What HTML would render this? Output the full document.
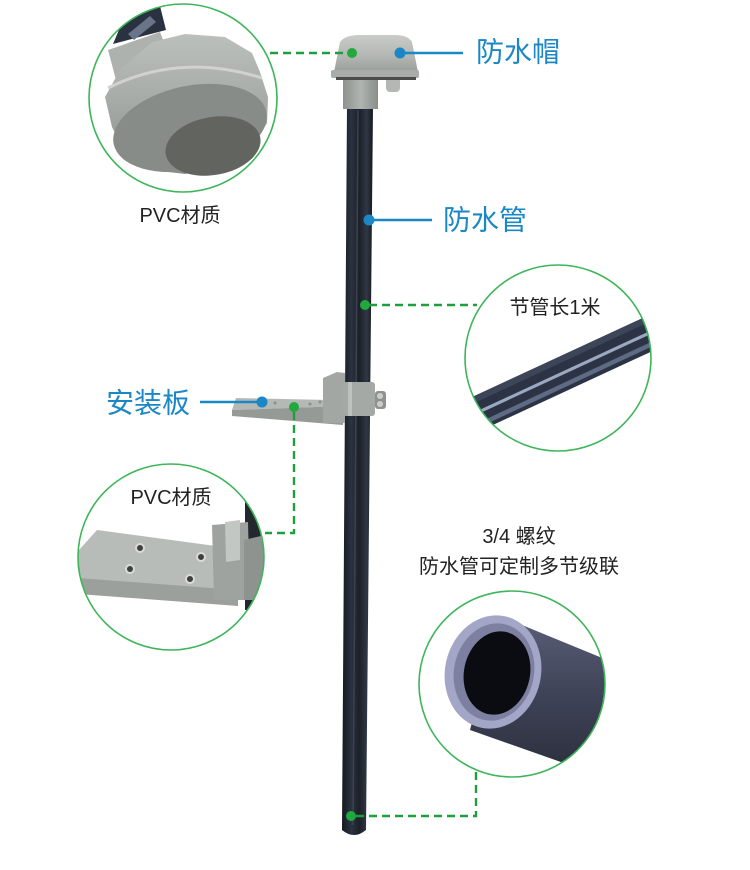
<!DOCTYPE html>
<html><head><meta charset="utf-8"><style>
html,body{margin:0;padding:0;background:#fff;}
svg{display:block;}
text{font-family:"Liberation Sans","Noto Sans CJK SC",sans-serif;}
</style></head><body>
<svg width="750" height="870" viewBox="0 0 750 870" xmlns="http://www.w3.org/2000/svg">
<defs>
  <linearGradient id="pipeG" x1="0" x2="1" y1="0" y2="0">
    <stop offset="0" stop-color="#15181e"/><stop offset="0.3" stop-color="#2b3240"/><stop offset="0.55" stop-color="#1c2028"/><stop offset="0.8" stop-color="#303846"/><stop offset="1" stop-color="#14171c"/>
  </linearGradient>
  <linearGradient id="capG" x1="0" x2="0" y1="0" y2="1">
    <stop offset="0" stop-color="#c9ccc8"/><stop offset="0.6" stop-color="#b2b6b2"/><stop offset="1" stop-color="#9a9e9a"/>
  </linearGradient>
  <linearGradient id="greyV" x1="0" x2="1" y1="0" y2="0">
    <stop offset="0" stop-color="#8e928e"/><stop offset="0.5" stop-color="#b0b4b0"/><stop offset="1" stop-color="#8a8e8a"/>
  </linearGradient>
  <linearGradient id="bodyG" x1="0" x2="0" y1="0" y2="1">
    <stop offset="0" stop-color="#bcc0bc"/><stop offset="0.5" stop-color="#a6aaa6"/><stop offset="1" stop-color="#8a8e8a"/>
  </linearGradient>
  <linearGradient id="tubeG" x1="0" x2="0" y1="0" y2="1">
    <stop offset="0" stop-color="#5a5f78"/><stop offset="0.5" stop-color="#3e4256"/><stop offset="1" stop-color="#2a2d3a"/>
  </linearGradient>
  <clipPath id="c1"><circle cx="183" cy="98" r="94"/></clipPath>
  <clipPath id="c2"><circle cx="171" cy="557" r="93"/></clipPath>
  <clipPath id="c3"><circle cx="558" cy="358" r="93"/></clipPath>
  <clipPath id="c4"><circle cx="512" cy="684" r="93"/></clipPath>
</defs>

<!-- ===== Circle 1: cap closeup ===== -->
<g clip-path="url(#c1)">
  <polygon points="113,44 124,18 160,6 166,30" fill="#2a3140"/>
  <polygon points="128,34 150,16 156,22 134,40" fill="#6a7488"/>
  <polygon points="108,50 160,32 172,62 116,80" fill="#aeb2ae"/>
  <path d="M105,97 L120,70 L152,42 L185,34 L225,37 L252,53 L260,72 L268,97 L267,123 L252,147 L225,167 L185,174 L152,170 L125,153 L112,127 Z" fill="url(#bodyG)"/>
  <path d="M108,88 Q180,52 262,78" stroke="#cfd2ce" stroke-width="3" fill="none"/>
  <ellipse cx="190" cy="128" rx="78" ry="42" transform="rotate(-12 190 128)" fill="#888c88"/>
  <ellipse cx="213" cy="146" rx="48" ry="29" transform="rotate(-10 213 146)" fill="#62645f"/>
</g>
<circle cx="183" cy="98" r="94" fill="none" stroke="#3db55a" stroke-width="1.6"/>
<text x="180" y="216" font-size="20" fill="#222" text-anchor="middle" dominant-baseline="central">PVC材质</text>

<!-- ===== Circle 2: plate closeup ===== -->
<g clip-path="url(#c2)">
  <rect x="245" y="500" width="30" height="110" fill="#23272e"/>
  <polygon points="97,530 223,547 238,603 78,590 70,560" fill="#b7bcb8"/>
  <polygon points="78,578 238,590 238,606 78,594" fill="#9ba09c"/>
  <polygon points="212,525 248,522 250,600 214,600" fill="#9ea39f"/>
  <polygon points="225,522 240,520 240,560 226,562" fill="#c3c7c3"/>
  <polygon points="244,540 265,535 265,600 244,600" fill="#8e938f"/>
  <g fill="#3e423f" stroke="#d8dbd8" stroke-width="2">
    <circle cx="140" cy="548" r="4"/><circle cx="201" cy="557" r="4"/>
    <circle cx="130" cy="569" r="4"/><circle cx="190" cy="579" r="4"/>
  </g>
</g>
<circle cx="171" cy="557" r="93" fill="none" stroke="#3db55a" stroke-width="1.6"/>
<text x="171" y="498" font-size="20" fill="#222" text-anchor="middle" dominant-baseline="central">PVC材质</text>

<!-- ===== Circle 3: pipe closeup ===== -->
<g clip-path="url(#c3)">
  <polygon points="470,398 660,310 672,342 482,430" fill="#2c3344"/>
  <polygon points="470,398 660,310 662,316 472,404" fill="#3d4658"/>
  <polygon points="475,412 665,324 666,327 476,415" fill="#9aa8c0"/>
  <polygon points="480,422 668,334 670,338 482,426" fill="#5f6b84"/>
</g>
<circle cx="558" cy="358" r="93" fill="none" stroke="#3db55a" stroke-width="1.6"/>
<text x="555" y="308" font-size="20" fill="#222" text-anchor="middle" dominant-baseline="central">节管长1米</text>

<!-- ===== Circle 4: thread closeup ===== -->
<g clip-path="url(#c4)">
  <polygon points="500,616 612,662 612,780 470,730" fill="url(#tubeG)"/>
  <ellipse cx="493" cy="672" rx="48" ry="57" transform="rotate(12 493 672)" fill="#a3a6c6"/>
  <ellipse cx="494" cy="672" rx="40" ry="49" transform="rotate(12 494 672)" fill="#7d80a0"/>
  <ellipse cx="497" cy="673" rx="33" ry="42" transform="rotate(12 497 673)" fill="#0b0c12"/>
</g>
<circle cx="512" cy="684" r="93" fill="none" stroke="#3db55a" stroke-width="1.6"/>
<text x="519" y="537" font-size="20" fill="#222" text-anchor="middle" dominant-baseline="central">3/4 螺纹</text>
<text x="519" y="567" font-size="20" fill="#222" text-anchor="middle" dominant-baseline="central">防水管可定制多节级联</text>

<!-- ===== Main pipe ===== -->
<path d="M347,106 L373,106 L366,830 Q354,840 342,830 Z" fill="url(#pipeG)"/>
<path d="M358,110 L353,825" stroke="#3a4352" stroke-width="1.5"/>

<!-- Cap -->
<rect x="343" y="76" width="35" height="33" fill="url(#greyV)"/>
<rect x="386" y="76" width="14" height="16" rx="4" fill="#b4b8b4"/>
<path d="M334,72 L340,42 Q345,35 360,35 L395,35 Q408,35 412,42 L418,72 Z" fill="url(#capG)"/>
<rect x="331" y="70" width="88" height="8" rx="2" fill="#a9ada9"/>
<rect x="336" y="77" width="80" height="3" fill="#4a4d4a"/>

<!-- Bracket / plate -->
<polygon points="236,398 330,400 343,406 232,410" fill="#b4b9b5"/>
<polygon points="232,410 343,406 343,425 232,416" fill="#959a96"/>
<polygon points="323,378 337,372 345,373 345,423 323,423" fill="#a2a7a3"/>
<rect x="343" y="382" width="32" height="34" rx="3" fill="#a4a9a5"/>
<rect x="348" y="382" width="4" height="34" fill="#bec2be"/>
<rect x="375" y="391" width="11" height="18" rx="3" fill="#8f938f"/>
<circle cx="380" cy="396" r="3" fill="#ccc"/><circle cx="380" cy="404" r="3" fill="#ccc"/>
<g fill="#8a8f8b"><circle cx="275" cy="403" r="1.5"/><circle cx="310" cy="404" r="1.5"/><circle cx="320" cy="402" r="1.5"/></g>

<!-- ===== Green dashed connectors ===== -->
<g stroke="#1f9e3e" stroke-width="2.4" fill="none" stroke-dasharray="8,5">
  <path d="M270,53 L348,53"/>
  <path d="M369,305 L477,305"/>
  <path d="M294,412 L294,533 L265,533"/>
  <path d="M356,816 L476,816 L476,770"/>
</g>
<g fill="#22a83c">
  <circle cx="352" cy="53" r="5"/>
  <circle cx="365" cy="305" r="5"/>
  <circle cx="294" cy="407" r="5"/>
  <circle cx="351" cy="816" r="5"/>
</g>

<!-- ===== Blue labels ===== -->
<g stroke="#1b87c5" stroke-width="2.6">
  <line x1="400" y1="53" x2="463" y2="53"/>
  <line x1="369" y1="220" x2="432" y2="220"/>
  <line x1="200" y1="402" x2="262" y2="402"/>
</g>
<g fill="#1b87c5">
  <circle cx="400" cy="53" r="5.5"/>
  <circle cx="369" cy="220" r="5.5"/>
  <circle cx="262" cy="402" r="5.5"/>
</g>
<g font-size="28" fill="#1b87c5" dominant-baseline="central">
  <text x="476" y="52">防水帽</text>
  <text x="443" y="220">防水管</text>
  <text x="106" y="403">安装板</text>
</g>
</svg>
</body></html>
